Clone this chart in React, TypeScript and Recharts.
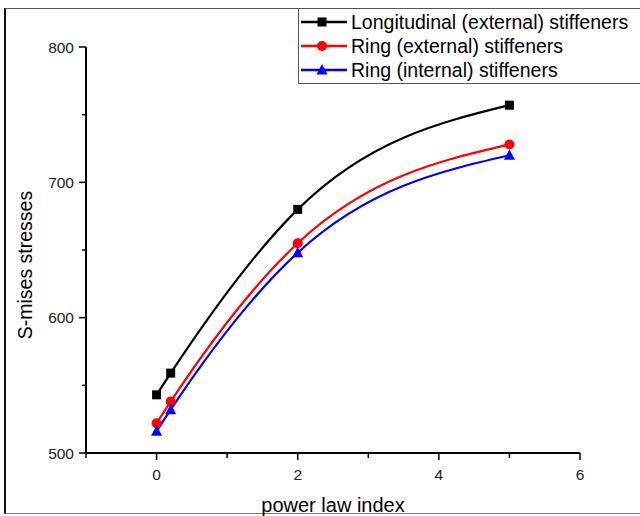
import React from 'react';
import { LineChart, Line, XAxis, YAxis } from 'recharts';

// power law index values (shared by all series)
const powerIndex = [0, 0.2, 2, 5];

// von Mises stresses per stiffener type
const longitudinalExt = [543, 559, 680, 757];
const ringExt = [522, 538, 655, 728];
const ringInt = [516, 532, 648, 720];

const xTicks = [-1, 0, 1, 2, 3, 4, 5, 6];
const xLabelTicks = [0, 2, 4, 6];
const yTicks = [500, 550, 600, 650, 700, 750, 800];
const yLabelTicks = [500, 600, 700, 800];

const FONT = '"Liberation Sans", Arial, sans-serif';

type MarkerKind = 'square' | 'circle' | 'triangle';

interface SeriesDef {
  key: string;
  name: string;
  color: string;
  marker: MarkerKind;
  values: number[];
}

const series: SeriesDef[] = [
  { key: 'longExt', name: 'Longitudinal (external) stiffeners', color: '#000000', marker: 'square', values: longitudinalExt },
  { key: 'ringExt', name: 'Ring (external) stiffeners', color: '#ff0000', marker: 'circle', values: ringExt },
  { key: 'ringInt', name: 'Ring (internal) stiffeners', color: '#0000ff', marker: 'triangle', values: ringInt },
];

const chartData = powerIndex.map((x, i) => {
  const row: Record<string, number> = { x };
  series.forEach((s) => {
    row[s.key] = s.values[i];
  });
  return row;
});

const drawMarker = (kind: MarkerKind, cx: number, cy: number, color: string, key?: string) => {
  if (kind === 'square') {
    return <rect key={key} x={cx - 4.5} y={cy - 4.5} width={9} height={9} fill={color} />;
  }
  if (kind === 'circle') {
    return <circle key={key} cx={cx} cy={cy} r={5} fill={color} />;
  }
  return (
    <path
      key={key}
      d={`M${cx},${cy - 6} L${cx + 5.5},${cy + 4.5} L${cx - 5.5},${cy + 4.5} Z`}
      fill={color}
    />
  );
};

const XTick = (props: any) => {
  const { x, y, payload } = props;
  const major = xLabelTicks.includes(payload.value);
  return (
    <g>
      <line x1={x} y1={y} x2={x} y2={y + (major ? 7 : 5)} stroke="#000" strokeWidth={1.5} />
      {major && (
        <text x={x} y={y + 27} textAnchor="middle" fontSize={15.5} fill="#222" fontFamily={FONT}>
          {payload.value}
        </text>
      )}
    </g>
  );
};

const YTick = (props: any) => {
  const { x, y, payload } = props;
  const major = yLabelTicks.includes(payload.value);
  return (
    <g>
      <line x1={x} y1={y} x2={x - (major ? 7 : 4)} y2={y} stroke="#000" strokeWidth={1.5} />
      {major && (
        <text x={x - 12} y={y + 5.5} textAnchor="end" fontSize={15.5} fill="#222" fontFamily={FONT}>
          {payload.value}
        </text>
      )}
    </g>
  );
};

const LegendBox = () => (
  <div
    style={{
      position: 'absolute',
      left: 298,
      top: 8,
      width: 360,
      height: 76,
      boxSizing: 'border-box',
      border: '1px solid #555',
      background: '#fff',
      paddingTop: 1,
      fontFamily: FONT,
      fontSize: 19.5,
      color: '#000',
    }}
  >
    {series.map((s) => (
      <div key={s.key} style={{ display: 'flex', alignItems: 'center', height: 24, whiteSpace: 'nowrap' }}>
        <svg width={50} height={20}>
          <line x1={2} y1={10} x2={48} y2={10} stroke={s.color} strokeWidth={2.5} />
          {drawMarker(s.marker, 23, 10, s.color)}
        </svg>
        <span style={{ marginLeft: 2, lineHeight: '24px' }}>{s.name}</span>
      </div>
    ))}
  </div>
);

const App: React.FC = () => {
  return (
    <div style={{ position: 'absolute', left: 0, top: 0, width: 640, height: 516, overflow: 'hidden', background: '#fff' }}>
      <div
        style={{
          position: 'absolute',
          left: 4,
          top: 8,
          width: 660,
          height: 506,
          boxSizing: 'border-box',
          borderTop: '1px solid #555',
          borderBottom: '1px solid #777',
          borderLeft: '2px solid #111',
        }}
      />
      <div style={{ position: 'absolute', left: 0, top: 0 }}>
        <LineChart width={640} height={516} data={chartData} margin={{ top: 47, right: 60, bottom: 23, left: 26 }}>
          <XAxis
            type="number"
            dataKey="x"
            domain={[-1, 6]}
            ticks={xTicks}
            allowDataOverflow
            height={40}
            tickSize={0}
            tickMargin={0}
            tickLine={false}
            tick={<XTick />}
            axisLine={{ stroke: '#000', strokeWidth: 2 }}
            interval={0}
          />
          <YAxis
            type="number"
            domain={[500, 800]}
            ticks={yTicks}
            allowDataOverflow
            width={60}
            tickSize={0}
            tickMargin={0}
            tickLine={false}
            tick={<YTick />}
            axisLine={{ stroke: '#000', strokeWidth: 2 }}
            interval={0}
          />
          {series.map((s) => (
            <Line
              key={s.key}
              type="monotone"
              dataKey={s.key}
              name={s.name}
              stroke={s.color}
              strokeWidth={2.2}
              isAnimationActive={false}
              activeDot={false}
              dot={(p: any) => drawMarker(s.marker, p.cx, p.cy, s.color, `${s.key}-${p.index}`)}
            />
          ))}
        </LineChart>
      </div>
      <div
        style={{
          position: 'absolute',
          left: 25,
          top: 265,
          transform: 'translate(-50%, -50%) rotate(-90deg)',
          fontFamily: FONT,
          fontSize: 19.5,
          whiteSpace: 'nowrap',
          color: '#000',
        }}
      >
        S-mises stresses
      </div>
      <div
        style={{
          position: 'absolute',
          left: 333,
          top: 505,
          transform: 'translate(-50%, -50%)',
          fontFamily: FONT,
          fontSize: 20,
          whiteSpace: 'nowrap',
          color: '#000',
        }}
      >
        power law index
      </div>
      <LegendBox />
    </div>
  );
};

export default App;
